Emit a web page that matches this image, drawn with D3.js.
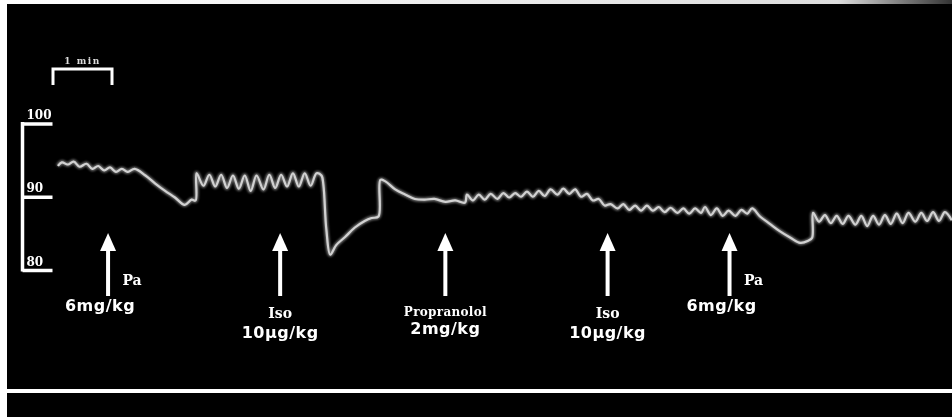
<!DOCTYPE html>
<html>
<head>
<meta charset="utf-8">
<script src="https://cdn.jsdelivr.net/npm/d3@7"></script>
<style>
  body { margin: 0; background: #000; }
  svg { display: block; }
</style>
</head>
<body>
<div id="chart"></div>
<script>
// pressure trace, time in seconds, pressure in mmHg
var timeSec = [5, 9, 15, 21, 27, 34, 40, 46, 52, 58, 64, 70, 76, 83, 94, 104, 114, 124, 134, 141, 145,
    146, 153, 159, 165, 171, 177, 183, 189, 195, 201, 207, 214, 220, 226, 232, 238, 244, 250, 256, 262, 268, 273,
    275, 278, 282, 288, 297, 307, 317, 324, 331,
    333, 338, 348, 358, 368, 378, 388, 399, 409, 419,
    421, 427, 433, 439, 445, 452, 458, 464, 470, 476, 482, 488, 494, 500, 506, 513, 519, 525, 531, 537, 543, 549,
    555, 561, 567, 574, 580, 586, 592, 598, 604, 610, 616, 622, 628, 635, 641, 647, 653, 659, 663, 669, 675, 681,
    687, 694, 700, 706, 711, 719, 729, 739, 750, 760, 768, 772,
    773, 779, 785, 791, 797, 803, 809, 816, 822, 828, 834, 840, 846, 852, 858, 864, 870, 877, 883, 889, 895, 901,
    907, 914];
var mmHg = [94.2, 94.7, 94.4, 94.8, 94.1, 94.5, 93.8, 94.2, 93.6, 94.0, 93.4, 93.8, 93.4, 93.8, 92.9, 91.8, 90.8, 89.9, 88.9, 89.6, 89.5,
    93.2, 91.5, 93.0, 91.4, 93.0, 91.2, 92.9, 91.1, 92.9, 90.8, 92.9, 91.0, 93.0, 91.2, 93.0, 91.4, 93.2, 91.4, 93.2, 91.5, 93.2, 92.9,
    91.6, 85.5, 82.1, 83.4, 84.5, 85.8, 86.7, 87.1, 87.3,
    92.3, 92.1, 91.0, 90.3, 89.7, 89.6, 89.7, 89.3, 89.5, 89.2,
    90.3, 89.5, 90.3, 89.6, 90.4, 89.7, 90.5, 89.9, 90.5, 90.0, 90.7, 90.0, 90.8, 90.1, 91.0, 90.3, 91.1, 90.4, 91.0, 90.0, 90.4, 89.5,
    89.7, 88.8, 89.0, 88.4, 89.0, 88.2, 88.8, 88.1, 88.8, 88.1, 88.6, 87.9, 88.5, 87.8, 88.4, 87.7, 88.4, 87.8, 88.6, 87.5, 88.4, 87.4,
    88.1, 87.4, 88.2, 87.7, 88.4, 87.3, 86.3, 85.3, 84.4, 83.7, 84.0, 84.4,
    87.8, 86.6, 87.5, 86.4, 87.4, 86.3, 87.4, 86.2, 87.4, 86.0, 87.4, 86.2, 87.5, 86.3, 87.7, 86.4, 87.8, 86.6, 87.8, 86.7, 87.9, 86.7,
    87.9, 86.8];

var pressureTicks = [80, 90, 100];
var scaleBarLabel = "1 min";

// injections
var doseTimes = [56, 231, 399, 564, 688];
var doseDrugs = ["Pa", "Iso", "Propranolol", "Iso", "Pa"];
var doseAmounts = ["6mg/kg", "10\u03bcg/kg", "2mg/kg", "10\u03bcg/kg", "6mg/kg"];

var svg = d3.select("#chart")
    .append("svg")
    .attr("width", 952)
    .attr("height", 417);

var defs = svg.append("defs");
defs.append("filter")
    .attr("id", "soft")
    .attr("x", "-5%").attr("y", "-5%")
    .attr("width", "110%").attr("height", "110%")
    .append("feGaussianBlur")
    .attr("stdDeviation", 0.7);

defs.append("filter")
    .attr("id", "fuzz")
    .attr("x", "-5%").attr("y", "-20%")
    .attr("width", "110%").attr("height", "140%")
    .append("feGaussianBlur")
    .attr("stdDeviation", 1.1);

var topFade = defs.append("linearGradient").attr("id", "top-fade");
topFade.append("stop").attr("offset", "0%").attr("stop-color", "#fff");
topFade.append("stop").attr("offset", "88%").attr("stop-color", "#ddd");
topFade.append("stop").attr("offset", "100%").attr("stop-color", "#333");

svg.append("rect")
    .attr("width", 952)
    .attr("height", 417)
    .attr("fill", "#000");

// white frame edges of the scanned figure
svg.append("rect").attr("x", 0).attr("y", 0).attr("width", 7).attr("height", 417).attr("fill", "#fff");
svg.append("rect").attr("x", 0).attr("y", 0).attr("width", 952).attr("height", 4).attr("fill", "url(#top-fade)");

var g = svg.append("g").attr("filter", "url(#soft)");

var xScale = d3.scaleLinear()
    .domain([0, 60])
    .range([53, 112]);

var yScale = d3.scaleLinear()
    .domain([80, 100])
    .range([270, 123.5]);

// pressure axis: vertical bar with ticks to the right, labels above ticks
var yAxis = d3.axisRight(yScale)
    .tickValues(pressureTicks)
    .tickSize(30)
    .tickSizeOuter(0)
    .tickFormat(d3.format("d"));

var axisG = g.append("g")
    .attr("transform", "translate(22.5,0)")
    .call(yAxis);

axisG.select(".domain")
    .attr("stroke", "#fff")
    .attr("stroke-width", 3.5)
    .attr("d", "M0," + (yScale(100) - 1.5) + "V" + (yScale(80) + 1.5));
axisG.selectAll(".tick line")
    .attr("stroke", "#fff")
    .attr("stroke-width", 3.5);
axisG.selectAll(".tick text")
    .attr("x", 4)
    .attr("dy", -5)
    .attr("text-anchor", "start")
    .attr("fill", "#fff")
    .style("font-family", "'DejaVu Serif', serif")
    .style("font-weight", "bold")
    .style("font-size", "12px");

// time scale bar
var barY = 69;
g.append("path")
    .attr("d", "M" + xScale(0) + "," + (barY + 16) + "V" + barY + "H" + xScale(60) + "V" + (barY + 16))
    .attr("fill", "none")
    .attr("stroke", "#fff")
    .attr("stroke-width", 3);

g.append("text")
    .attr("x", (xScale(0) + xScale(60)) / 2)
    .attr("y", barY - 5)
    .attr("text-anchor", "middle")
    .attr("fill", "#ddd")
    .style("font-family", "'DejaVu Serif', serif")
    .style("font-weight", "bold")
    .style("font-size", "9px")
    .style("letter-spacing", "1.5px")
    .text(scaleBarLabel);

// pressure trace
var trace = d3.range(timeSec.length).map(function(i) {
    return { t: timeSec[i], v: mmHg[i] };
});

var line = d3.line()
    .x(function(d) { return xScale(d.t); })
    .y(function(d) { return yScale(d.v); })
    .curve(d3.curveCatmullRom.alpha(0.5));

svg.append("path")
    .datum(trace)
    .attr("d", line)
    .attr("fill", "none")
    .attr("stroke", "#bbb")
    .attr("stroke-width", 4.5)
    .attr("stroke-opacity", 0.6)
    .attr("stroke-linejoin", "round")
    .attr("filter", "url(#fuzz)");

g.append("path")
    .datum(trace)
    .attr("d", line)
    .attr("fill", "none")
    .attr("stroke", "#eee")
    .attr("stroke-width", 2.2)
    .attr("stroke-linejoin", "round");

// injection arrows
var doses = d3.range(doseTimes.length).map(function(i) {
    return { t: doseTimes[i], drug: doseDrugs[i], amount: doseAmounts[i] };
});

var arrows = g.selectAll(".dose")
    .data(doses)
    .enter().append("g")
    .attr("class", "dose")
    .attr("transform", function(d) { return "translate(" + xScale(d.t) + ",0)"; });

arrows.append("line")
    .attr("x1", 0).attr("x2", 0)
    .attr("y1", 248).attr("y2", 296)
    .attr("stroke", "#fff")
    .attr("stroke-width", 4);

arrows.append("path")
    .attr("d", "M0,233L8,251H-8Z")
    .attr("fill", "#fff");

arrows.append("text")
    .attr("x", function(d) { return d.drug === "Pa" ? 24 : 0; })
    .attr("y", function(d) {
        if (d.drug === "Pa") return 285;
        return d.drug === "Propranolol" ? 316 : 318;
    })
    .attr("text-anchor", "middle")
    .attr("fill", "#fff")
    .style("font-family", "'DejaVu Serif', serif")
    .style("font-weight", "bold")
    .style("font-size", function(d) { return d.drug === "Propranolol" ? "12px" : "14px"; })
    .style("letter-spacing", function(d) { return d.drug === "Propranolol" ? "0.3px" : "0px"; })
    .text(function(d) { return d.drug; });

arrows.append("text")
    .attr("x", function(d) { return d.drug === "Pa" ? -8 : 0; })
    .attr("y", function(d) {
        if (d.drug === "Pa") return 311;
        return d.drug === "Propranolol" ? 334 : 338;
    })
    .attr("text-anchor", "middle")
    .attr("fill", "#fff")
    .style("font-family", "'DejaVu Sans', sans-serif")
    .style("font-weight", "bold")
    .style("font-size", "16px")
    .style("letter-spacing", "0.5px")
    .text(function(d) { return d.amount; });

// baseline bar at the bottom
g.append("line")
    .attr("x1", 7).attr("x2", 952)
    .attr("y1", 391).attr("y2", 391)
    .attr("stroke", "#fff")
    .attr("stroke-width", 4);
</script>
</body>
</html>
